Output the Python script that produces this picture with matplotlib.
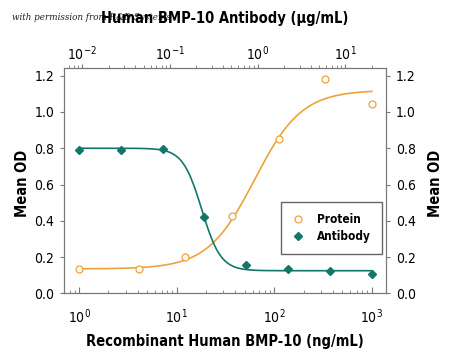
import numpy as np
import matplotlib
matplotlib.use("Agg")
import matplotlib.pyplot as plt
from matplotlib.lines import Line2D

plt.rcParams['font.family'] = ['DejaVu Sans Condensed', 'DejaVu Sans']
plt.rcParams['font.stretch'] = 'condensed'

# recombinant protein, ng/mL (bottom axis)
protein_conc = [1, 4.1, 12.3, 37, 111, 333, 1000]
protein_od = [0.132, 0.132, 0.198, 0.427, 0.853, 1.18, 1.042]
# 4PL fit: bottom, top, EC50, hill
protein_fit = [0.135, 1.12, 63.0, 1.8]

# neutralizing antibody, ug/mL (top axis)
antibody_conc = [0.00914, 0.0274, 0.0823, 0.247, 0.741, 2.22, 6.67, 20]
antibody_od = [0.793, 0.789, 0.796, 0.42, 0.154, 0.134, 0.121, 0.108]
antibody_fit = [0.125, 0.80, 0.23, 4.0]

y_ticks = [0.0, 0.2, 0.4, 0.6, 0.8, 1.0, 1.2]

orange = '#EFA23A'
teal = '#12776A'


def four_pl(x, bottom, top, ec50, hill):
    return bottom + (top - bottom) / (1 + (ec50 / x) ** hill)


fig = plt.figure(figsize=(4.5, 3.6), dpi=100)
ax = fig.add_axes([0.142, 0.185, 0.716, 0.625])

ax.set_xscale('log')
ax.set_xlim(0.70, 1400)
ax.set_ylim(0, 1.24)
ax.set_yticks(y_ticks)
ax.set_yticklabels(['%.1f' % v for v in y_ticks])

xs = np.logspace(np.log10(protein_conc[0]), np.log10(protein_conc[-1]), 200)
ax.plot(xs, four_pl(xs, *protein_fit), color=orange, lw=1.2)
ax.plot(protein_conc, protein_od, 'o', mfc='white', mec=orange, ms=5, mew=0.9)

ax_top = ax.twiny()
ax_top.set_xscale('log')
ax_top.set_xlim(0.00616, 29.1)

xa = np.logspace(np.log10(antibody_conc[0]), np.log10(antibody_conc[-1]), 200)
# decreasing curve: swap top/bottom
ax_top.plot(xa, four_pl(xa, antibody_fit[1], antibody_fit[0], antibody_fit[2], antibody_fit[3]),
            color=teal, lw=1.2)
ax_top.plot(antibody_conc, antibody_od, 'D', color=teal, ms=4.5)

for a in (ax, ax_top):
    for s in a.spines.values():
        s.set_color('#777777')
        s.set_linewidth(0.8)

ax.tick_params(axis='y', which='both', direction='out', right=True, labelright=True,
               labelsize=10, length=3, color='#777777', pad=4)
ax.tick_params(axis='x', which='major', direction='in', labelsize=10, length=4,
               color='#777777', pad=10)
ax.tick_params(axis='x', which='minor', direction='in', length=2, color='#777777')
ax_top.tick_params(axis='x', which='major', direction='out', labelsize=10, length=3,
                   color='#777777', pad=1)
ax_top.tick_params(axis='x', which='minor', direction='out', length=2, color='#777777')

handles = [
    Line2D([], [], ls='none', marker='o', mfc='white', mec=orange, ms=5, mew=0.9),
    Line2D([], [], ls='none', marker='D', color=teal, ms=4.5),
]
leg = ax_top.legend(handles, ['Protein', 'Antibody'], loc='center',
                    bbox_to_anchor=(0.83, 0.29), fancybox=False, framealpha=1,
                    edgecolor='#666666', fontsize=8.5, handletextpad=1.0,
                    handlelength=1.2, borderpad=0.9, labelspacing=0.35)
for t in leg.get_texts():
    t.set_fontweight('bold')

fig.text(0.5, 0.052, 'Recombinant Human BMP-10 (ng/mL)', ha='center', va='center',
         fontsize=10.5, fontweight='bold')
fig.text(0.027, 0.952, 'with permission from R&D Systems', ha='left', va='center',
         fontsize=7, style='italic', family='DejaVu Serif', color='#222222')
fig.text(0.5, 0.95, 'Human BMP-10 Antibody (μg/mL)', ha='center', va='center',
         fontsize=10.5, fontweight='bold')
fig.text(0.049, 0.49, 'Mean OD', rotation=90, ha='center', va='center',
         fontsize=10.5, fontweight='bold')
fig.text(0.967, 0.49, 'Mean OD', rotation=90, ha='center', va='center',
         fontsize=10.5, fontweight='bold')

fig.savefig('out.png', dpi=100)
